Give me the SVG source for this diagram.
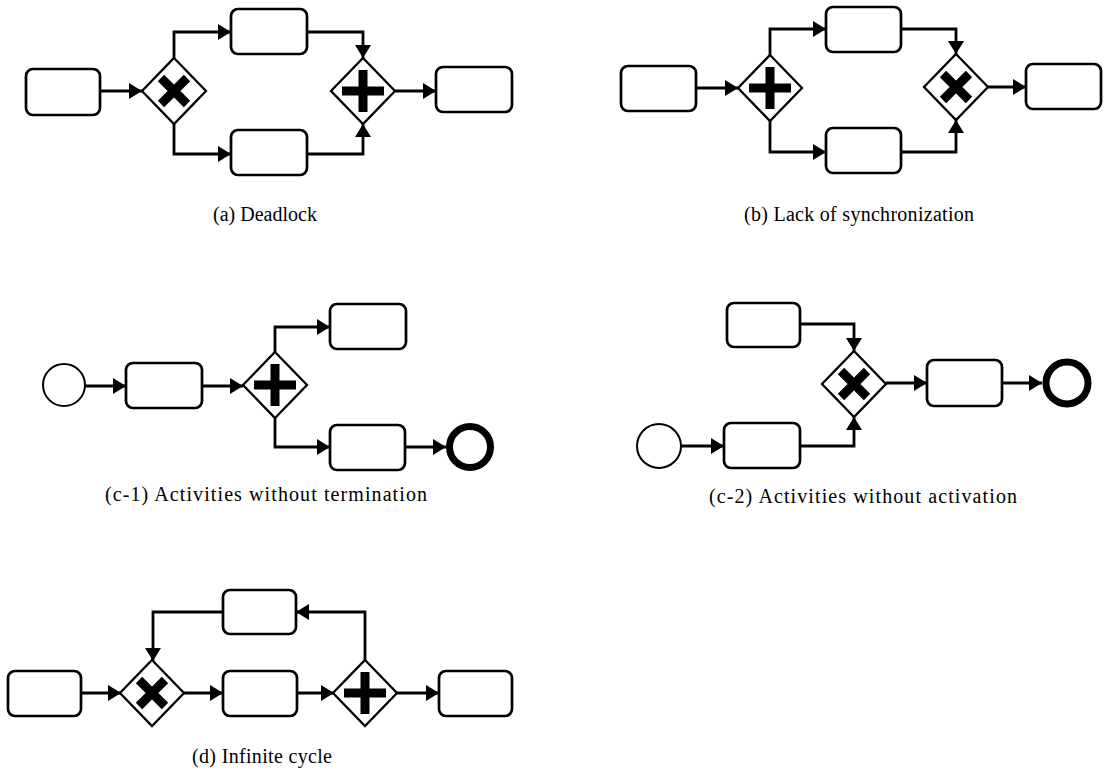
<svg xmlns="http://www.w3.org/2000/svg" width="1111" height="771" viewBox="0 0 1111 771">
<style>
.box{fill:#fff;stroke:#000;stroke-width:2.7}
.gw{fill:#fff;stroke:#000;stroke-width:2.3}
.mk{stroke:#000;stroke-width:9;fill:none}
.ev{fill:#fff;stroke:#000;stroke-width:2}
.end{fill:#fff;stroke:#000;stroke-width:7}
.cn{fill:none;stroke:#000;stroke-width:2.8;marker-end:url(#ah)}
.cap{font-family:"Liberation Serif","Times New Roman",serif;font-size:20px;fill:#000;text-anchor:middle}
</style>
<defs>
<marker id="ah" markerUnits="userSpaceOnUse" markerWidth="13" markerHeight="16" refX="13" refY="8" orient="auto">
<path d="M0,0 L13,8 L0,16 z" fill="#000"/>
</marker>
<g id="xg"><path class="gw" d="M0,-33 L32,0 L0,33 L-32,0 z"/><path class="mk" d="M-13,-13 L13,13 M13,-13 L-13,13"/></g>
<g id="pg"><path class="gw" d="M0,-33 L32,0 L0,33 L-32,0 z"/><path class="mk" d="M-21,0 L21,0 M0,-21 L0,21"/></g>
</defs>
<rect width="1111" height="771" fill="#fff"/>

<!-- (a) Deadlock -->
<g id="a-t1"><rect class="box" x="26" y="69" width="74" height="46" rx="7"/></g>
<g id="a-xor"><use href="#xg" x="174" y="91"/></g>
<g id="a-t2"><rect class="box" x="231" y="9" width="76" height="45" rx="7"/></g>
<g id="a-t3"><rect class="box" x="231" y="130" width="76" height="45" rx="7"/></g>
<g id="a-and"><use href="#pg" x="363" y="91"/></g>
<g id="a-t4"><rect class="box" x="436" y="67" width="76" height="45" rx="7"/></g>
<g id="a-conn">
<path class="cn" d="M100,91 L142,91"/>
<path class="cn" d="M174,58 L174,32 L231,32"/>
<path class="cn" d="M174,124 L174,154 L231,154"/>
<path class="cn" d="M307,32 L363,32 L363,58"/>
<path class="cn" d="M307,154 L363,154 L363,124"/>
<path class="cn" d="M395,91 L436,91"/>
</g>
<text class="cap" x="265" y="221" textLength="104" lengthAdjust="spacing">(a) Deadlock</text>

<!-- (b) Lack of synchronization -->
<g id="b-t1"><rect class="box" x="621" y="66" width="75" height="45" rx="7"/></g>
<g id="b-and"><use href="#pg" x="770" y="88"/></g>
<g id="b-t2"><rect class="box" x="826" y="7" width="75" height="45" rx="7"/></g>
<g id="b-t3"><rect class="box" x="826" y="128" width="75" height="45" rx="7"/></g>
<g id="b-xor"><use href="#xg" x="956" y="87"/></g>
<g id="b-t4"><rect class="box" x="1026" y="64" width="75" height="45" rx="7"/></g>
<g id="b-conn">
<path class="cn" d="M696,88 L738,88"/>
<path class="cn" d="M770,55 L770,29 L826,29"/>
<path class="cn" d="M770,121 L770,152 L826,152"/>
<path class="cn" d="M901,29 L956,29 L956,54"/>
<path class="cn" d="M901,152 L956,152 L956,120"/>
<path class="cn" d="M988,87 L1026,87"/>
</g>
<text class="cap" x="859" y="221" textLength="230" lengthAdjust="spacing">(b) Lack of synchronization</text>

<!-- (c-1) -->
<g id="c1-start"><circle class="ev" cx="64" cy="385" r="21"/></g>
<g id="c1-t1"><rect class="box" x="126" y="363" width="76" height="45" rx="7"/></g>
<g id="c1-and"><use href="#pg" x="275" y="385"/></g>
<g id="c1-t2"><rect class="box" x="330" y="304" width="76" height="45" rx="7"/></g>
<g id="c1-t3"><rect class="box" x="330" y="425" width="75" height="45" rx="7"/></g>
<g id="c1-end"><circle class="end" cx="470" cy="447" r="20.5"/></g>
<g id="c1-conn">
<path class="cn" d="M85,386 L126,386"/>
<path class="cn" d="M202,386 L243,386"/>
<path class="cn" d="M275,352 L275,327 L330,327"/>
<path class="cn" d="M275,418 L275,447 L330,447"/>
<path class="cn" d="M405,447 L446,447"/>
</g>
<text class="cap" x="266" y="501" textLength="322" lengthAdjust="spacing">(c-1) Activities without termination</text>

<!-- (c-2) -->
<g id="c2-t1"><rect class="box" x="727" y="303" width="73" height="44" rx="7"/></g>
<g id="c2-xor"><use href="#xg" x="854" y="384"/></g>
<g id="c2-t2"><rect class="box" x="927" y="360" width="75" height="46" rx="7"/></g>
<g id="c2-end"><circle class="end" cx="1067" cy="383" r="21"/></g>
<g id="c2-start"><circle class="ev" cx="659" cy="446" r="22"/></g>
<g id="c2-t3"><rect class="box" x="724" y="423" width="76" height="45" rx="7"/></g>
<g id="c2-conn">
<path class="cn" d="M800,324 L854,324 L854,351"/>
<path class="cn" d="M800,446 L854,446 L854,417"/>
<path class="cn" d="M886,383 L927,383"/>
<path class="cn" d="M1002,383 L1042,383"/>
<path class="cn" d="M681,446 L724,446"/>
</g>
<text class="cap" x="863" y="503" textLength="308" lengthAdjust="spacing">(c-2) Activities without activation</text>

<!-- (d) Infinite cycle -->
<g id="d-t1"><rect class="box" x="8" y="671" width="73" height="45" rx="7"/></g>
<g id="d-xor"><use href="#xg" x="152" y="693"/></g>
<g id="d-t2"><rect class="box" x="223" y="671" width="74" height="45" rx="7"/></g>
<g id="d-and"><use href="#pg" x="365" y="693"/></g>
<g id="d-t3"><rect class="box" x="439" y="671" width="73" height="45" rx="7"/></g>
<g id="d-t4"><rect class="box" x="223" y="590" width="73" height="44" rx="7"/></g>
<g id="d-conn">
<path class="cn" d="M81,693 L121,693"/>
<path class="cn" d="M184,693 L223,693"/>
<path class="cn" d="M297,693 L334,693"/>
<path class="cn" d="M397,693 L439,693"/>
<path class="cn" d="M365,660 L365,612 L296,612"/>
<path class="cn" d="M223,612 L153,612 L153,661"/>
</g>
<text class="cap" x="262" y="763" textLength="140" lengthAdjust="spacing">(d) Infinite cycle</text>
</svg>
